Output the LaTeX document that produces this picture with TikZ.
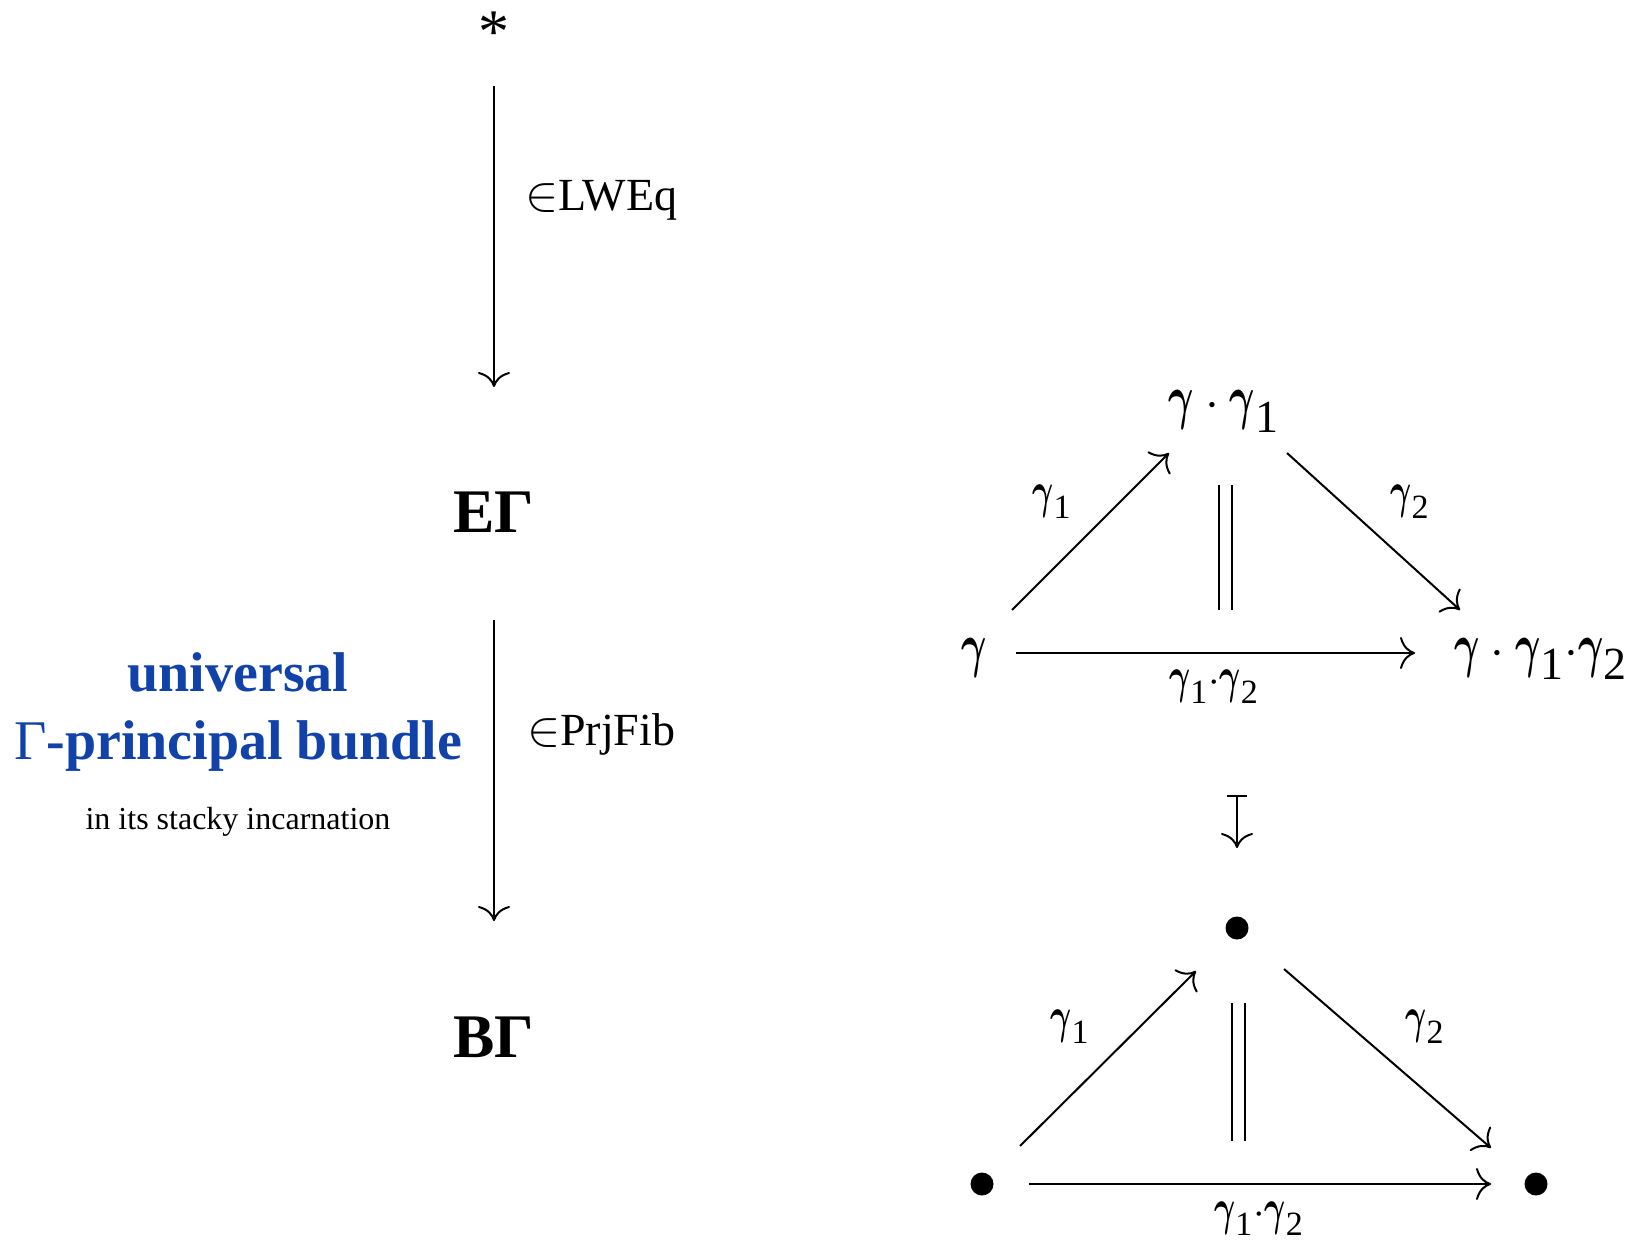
\documentclass[tikz,border=0pt]{standalone}
\usepackage{amsmath}
\usepackage{graphicx}
\usepackage{fontspec}
\setmainfont{Liberation Serif}
\usetikzlibrary{arrows.meta}
\definecolor{ublue}{RGB}{16,66,170}
\DeclareMathSizes{30}{30}{23}{17}
\DeclareMathSizes{22}{22}{17}{12}
\newcommand{\gm}{\mathord{\scalebox{0.78}[1.22]{$\boldsymbol{\gamma}$}}}
\begin{document}
\begin{tikzpicture}[x=0.5pt,y=-0.5pt,line width=1pt,
  arr/.style={-{To[length=7.5pt,width=16pt]}},
  maparr/.style={{Bar[width=10pt]}-{To[length=7.5pt,width=16pt]}},
  mnode/.style={font=\fontsize{30}{36}\selectfont,anchor=base,inner sep=0pt},
  lnode/.style={font=\fontsize{22}{26}\selectfont,anchor=base,inner sep=0pt},
  bignode/.style={font=\fontsize{31}{36}\selectfont\bfseries,inner sep=0pt},
  elabel/.style={font=\fontsize{23}{28}\selectfont,anchor=base west,inner sep=0pt},
  title/.style={font=\fontsize{28}{34}\selectfont\bfseries,text=ublue,anchor=base,inner sep=0pt},
  dot/.style={circle,fill,inner sep=0pt,minimum size=11.5pt},
  eq/.style={double,double distance=5.5pt,line width=1pt}]
\useasboundingbox (0,0) rectangle (1641,1240);

% left column
\node[font=\fontsize{31}{36}\selectfont,anchor=base,inner sep=0pt] (star) at (494,52.5) {*};
\node[bignode] (E) at (494,512) {EΓ};
\node[bignode] (B) at (494,1037) {BΓ};
\draw[arr] ([shift={(0,33.5)}]star.base) -- ([shift={(0,-125)}]E.center);
\draw[arr] ([shift={(0,108)}]E.center) -- ([shift={(0,-116)}]B.center);
\node[elabel] (lweq) at (524,211) {$\in$LWEq};
\node[elabel] (prj) at (526,745) {$\in$PrjFib};

\node[title] (t1) at (238,691) {universal};
\node[title] (t2) at (238,759) {{\mdseries Γ}-principal bundle};
\node[font=\fontsize{16}{20}\selectfont,anchor=base,inner sep=0pt] (t3) at (238,829) {in its stacky incarnation};

% top triangle
\node[mnode] (g) at (974,665) {$\gm$};
\node[mnode] (t) at (1224,418) {$\gm\cdot\gm_{\text{1}}$};
\node[mnode] (r) at (1541,665) {$\gm\cdot\gm_{\text{1}}{\cdot}\gm_{\text{2}}$};
\node[lnode] (l1) at (1052,507) {$\gm_{\text{1}}$};
\node[lnode] (l2) at (1410,507) {$\gm_{\text{2}}$};
\node[lnode] (l12) at (1214,692) {$\gm_{\text{1}}{\cdot}\gm_{\text{2}}$};
\draw[arr] ([shift={(38,-55)}]g.base) -- ([shift={(-55,35)}]t.base);
\draw[arr] ([shift={(63,35)}]t.base) -- ([shift={(-81,-55)}]r.base);
\draw[arr] ([shift={(42,-12)}]g.base) -- ([shift={(-126,-12)}]r.base);
\coordinate (eqA) at (1225,485);
\coordinate (eqB) at (1225,610);
\draw[eq] (eqA) -- (eqB);

% maps-to
\coordinate (mA) at (1237,795);
\coordinate (mB) at (1237,848);
\draw[maparr] (mA) -- (mB);

% bottom triangle
\node[dot] (L) at (982,1184) {};
\node[dot] (T) at (1237,928) {};
\node[dot] (R) at (1536,1184) {};
\node[lnode] (m1) at (1070,1032) {$\gm_{\text{1}}$};
\node[lnode] (m2) at (1425,1032) {$\gm_{\text{2}}$};
\node[lnode] (m12) at (1259,1224) {$\gm_{\text{1}}{\cdot}\gm_{\text{2}}$};
\draw[arr] ([shift={(38,-38)}]L.center) -- ([shift={(-41,43)}]T.center);
\draw[arr] ([shift={(47,41)}]T.center) -- ([shift={(-45,-36)}]R.center);
\draw[arr] ([shift={(47,0)}]L.center) -- ([shift={(-45,0)}]R.center);
\coordinate (eqC) at (1238,1003);
\coordinate (eqD) at (1238,1141);
\draw[eq] (eqC) -- (eqD);
\end{tikzpicture}
\end{document}
